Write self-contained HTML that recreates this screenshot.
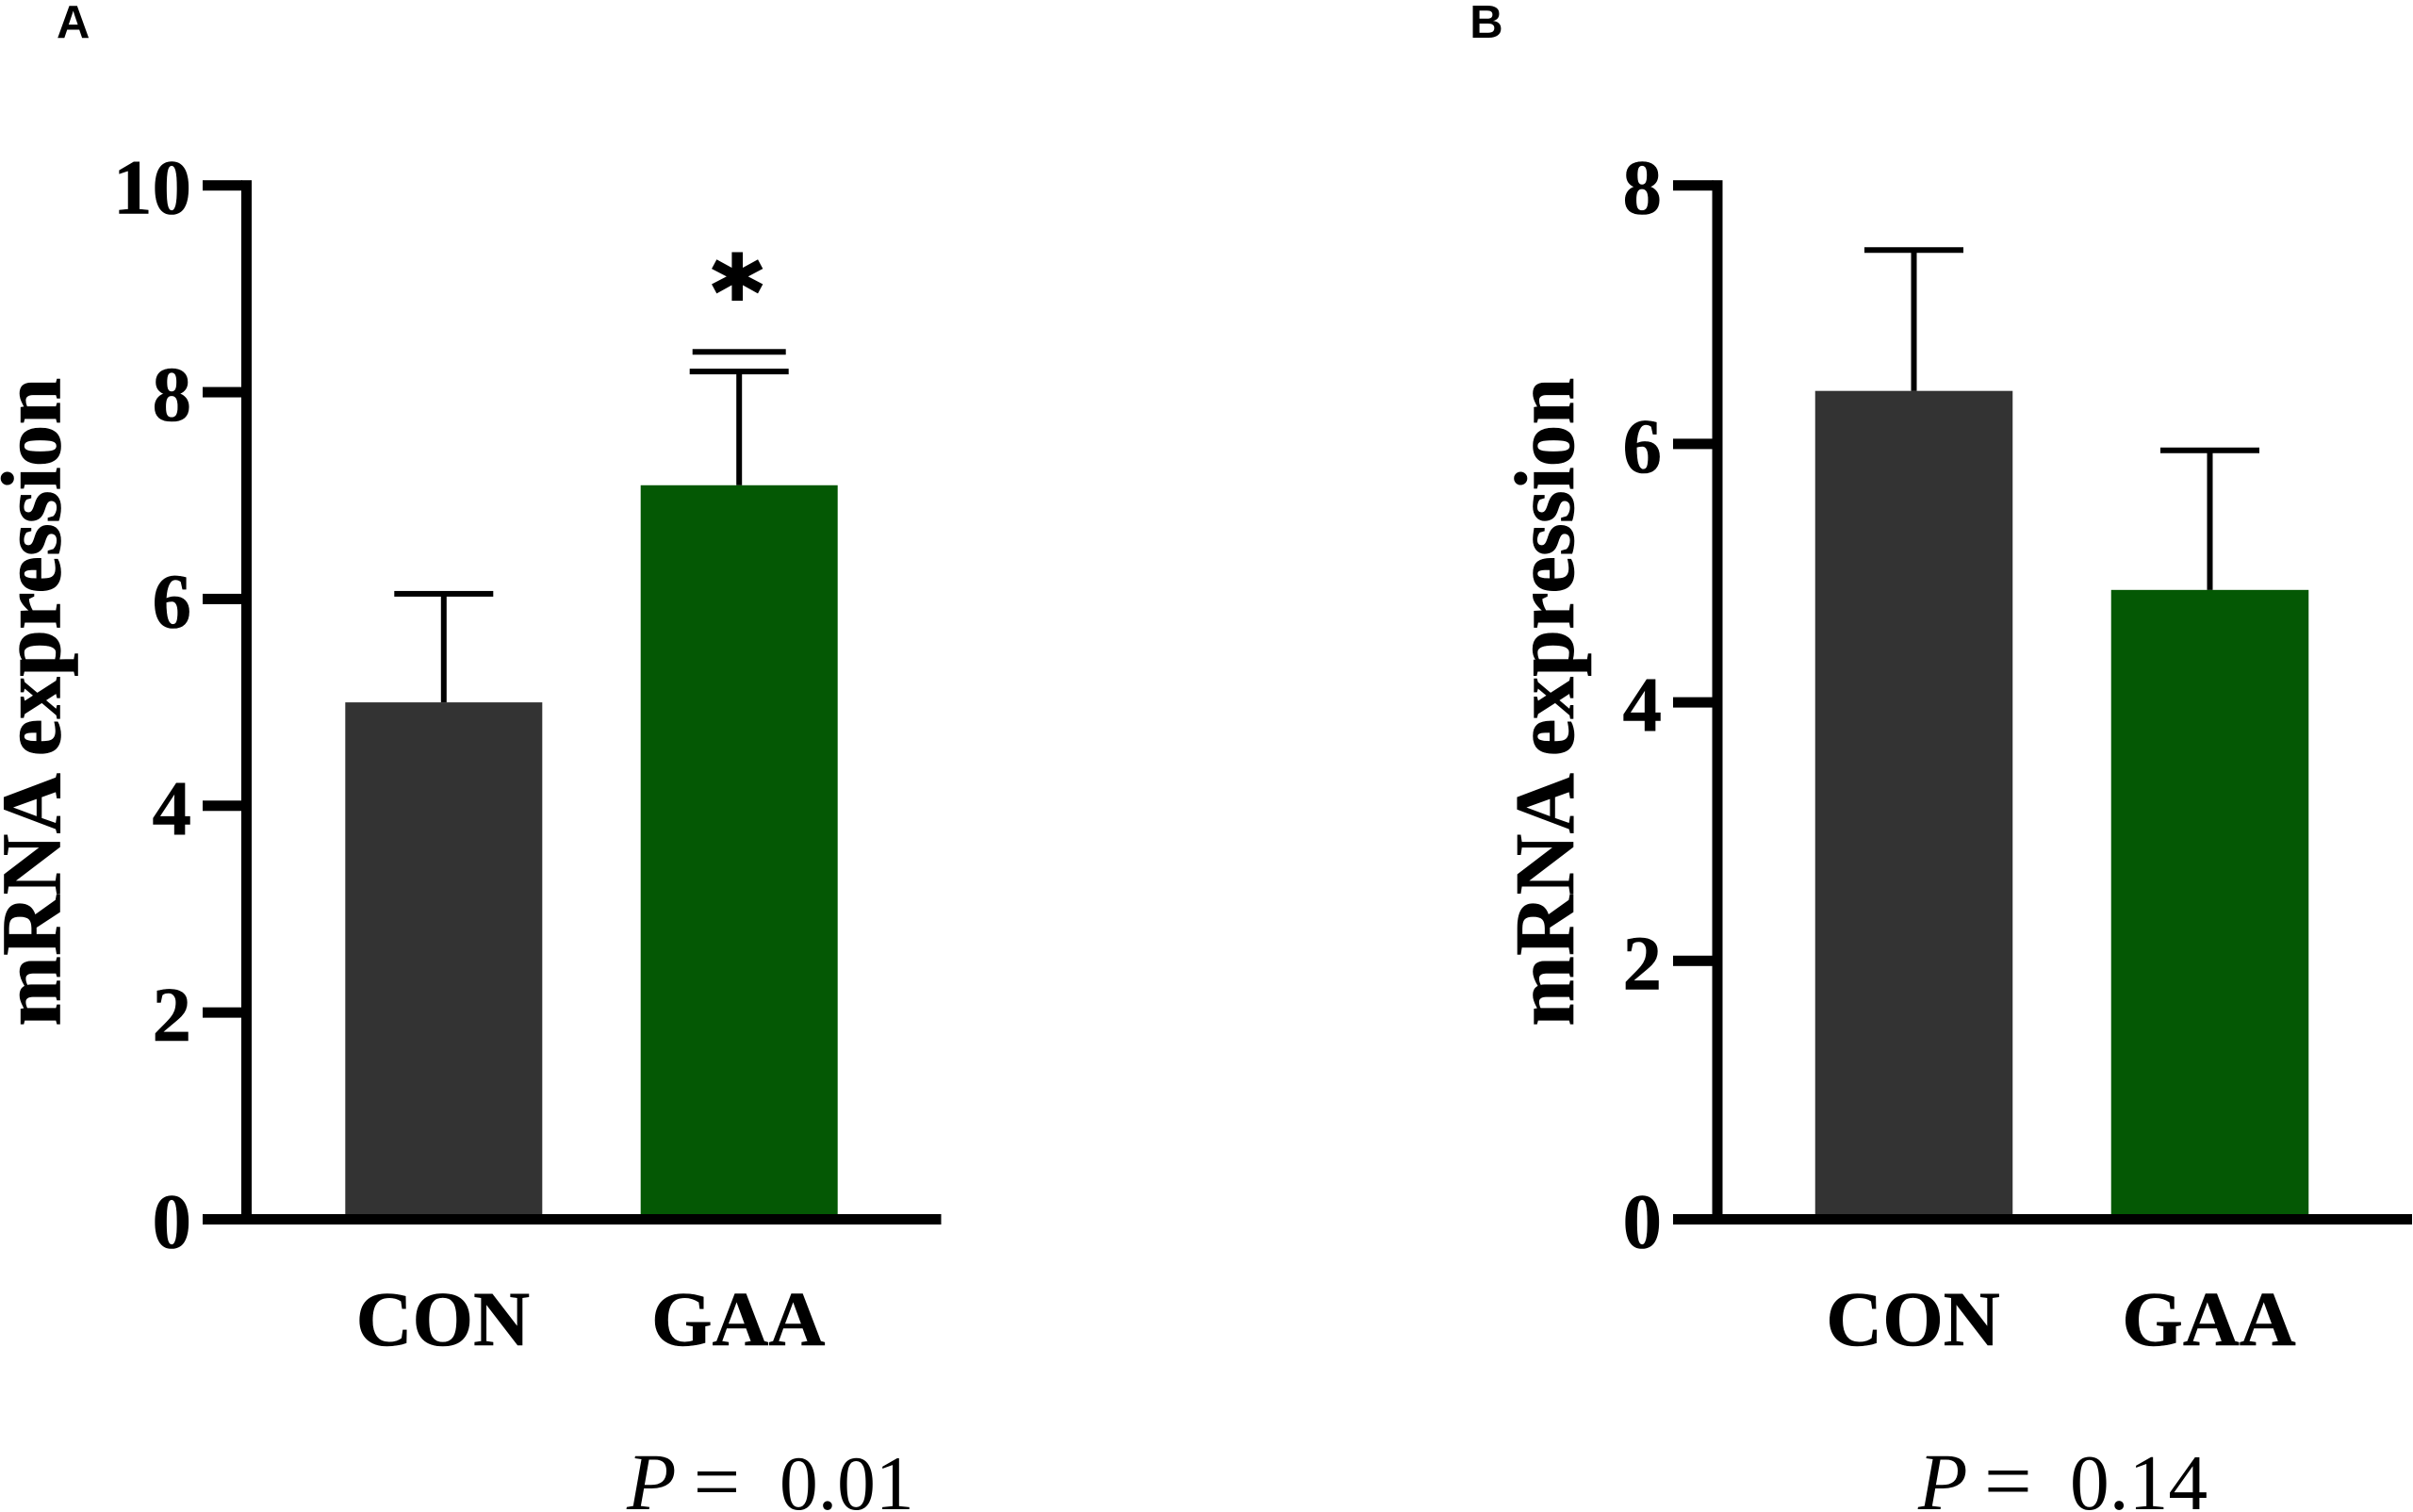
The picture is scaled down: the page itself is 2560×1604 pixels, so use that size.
<!DOCTYPE html>
<html lang="en">
<head>
<meta charset="utf-8">
<title>mRNA expression CON vs GAA</title>
<style>
html,body{margin:0;padding:0;background:#fff;}
svg{display:block;}
.serif{font-family:"Liberation Serif",serif;}
.bold{font-weight:700;stroke:#000;stroke-width:0.6px;}
.sans{font-family:"Liberation Sans",sans-serif;font-weight:700;}
.star{font-family:"DejaVu Sans",sans-serif;font-weight:700;stroke:#000;stroke-width:3px;}
</style>
</head>
<body>
<svg id="figure" xmlns="http://www.w3.org/2000/svg" width="2560" height="1604" viewBox="0 0 2560 1604">
  <rect x="0" y="0" width="2560" height="1604" fill="#ffffff"/>
  <text class="sans" x="60" y="40" font-size="49">A</text>
  <text class="sans" x="1559.3" y="40" font-size="49">B</text>
  <text class="serif bold" font-size="90" text-anchor="middle" textLength="688" lengthAdjust="spacingAndGlyphs" transform="translate(63.5 744.7) rotate(-90)">mRNA expression</text>
  <text class="serif bold" font-size="90" text-anchor="middle" textLength="688" lengthAdjust="spacingAndGlyphs" transform="translate(1669 744.7) rotate(-90)">mRNA expression</text>
  <text class="serif" y="1601"><tspan x="665" font-size="86" font-style="italic">P</tspan><tspan x="735.6" font-size="88">=</tspan><tspan x="827" font-size="81.5">0.01</tspan></text>
  <text class="serif" y="1601"><tspan x="2035" font-size="86" font-style="italic">P</tspan><tspan x="2105" font-size="90">=</tspan><tspan x="2196" font-size="83.5">0.14</tspan></text>
  <g id="panel-a"></g>
  <g id="panel-b"></g>
</svg>
<script>
// Chart data
const categories = ['CON', 'GAA'];
const barColors = ['#333333', '#045804'];

const panelAMeans = [5.0, 7.1];
const panelAErrorTops = [6.05, 8.2];
const panelATicks = [0, 2, 4, 6, 8, 10];
const panelASignificanceLine = 8.39;
const panelASignificanceMark = '*';

const panelBMeans = [6.41, 4.87];
const panelBErrorTops = [7.5, 5.95];
const panelBTicks = [0, 2, 4, 6, 8];

const SVG_NS = 'http://www.w3.org/2000/svg';

function shape(parent, tag, attrs) {
  const el = document.createElementNS(SVG_NS, tag);
  for (const k in attrs) el.setAttribute(k, attrs[k]);
  parent.appendChild(el);
  return el;
}

function drawPanel(cfg) {
  const g = document.getElementById(cfg.id);
  const top = 196.7, bottom = 1293.5;
  const maxTick = cfg.ticks[cfg.ticks.length - 1];
  const y = v => bottom + (top - bottom) * v / maxTick;
  const x = i => cfg.firstCenter + i * cfg.step;

  cfg.means.forEach((m, i) => {
    const bar = shape(g, 'rect', {x: x(i) - cfg.barWidth / 2, y: y(m), width: cfg.barWidth, height: y(0) - y(m), fill: barColors[i]});
    
    

    const stem = shape(g, 'rect', {x: x(i) - 3, y: y(cfg.errorTops[i]), width: 6, height: y(m) - y(cfg.errorTops[i]), fill: '#000'});
    
    

    const cap = shape(g, 'rect', {x: x(i) - cfg.capWidth / 2, y: y(cfg.errorTops[i]) - 3, width: cfg.capWidth, height: 6, fill: '#000'});
    
    

    const label = shape(g, 'text', {x: x(i) - 1, y: 1427, 'font-size': 83, 'text-anchor': 'middle', class: 'serif bold', fill: '#000'});
    label.textContent = categories[i];
    
    
  });

  const yAxis = shape(g, 'rect', {x: cfg.axisX, y: y(maxTick) - 5.5, width: cfg.axisWidth, height: y(0) - y(maxTick) + 11, fill: '#000'});
  
  

  const xAxis = shape(g, 'rect', {x: cfg.tickLeft, y: y(0) - 5.5, width: cfg.axisEnd - cfg.tickLeft, height: 11, fill: '#000'});
  
  

  cfg.ticks.forEach(t => {
    const tick = shape(g, 'rect', {x: cfg.tickLeft, y: y(t) - 5.5, width: cfg.axisX - cfg.tickLeft + 1, height: 11, fill: '#000'});
    
    

    const tl = shape(g, 'text', {x: cfg.labelRight, y: y(t) + 30, 'font-size': 83, 'text-anchor': 'end', class: 'serif bold', fill: '#000'});
    tl.textContent = String(t);
    
    
  });

  if (cfg.significanceLine !== undefined) {
    const line = shape(g, 'rect', {x: x(1) - 49.5, y: y(cfg.significanceLine) - 3, width: 99, height: 6, fill: '#000'});
    
    

    const star = shape(g, 'text', {x: x(1) - 2, y: y(cfg.significanceLine) - 27, 'font-size': 104, 'text-anchor': 'middle', class: 'star', fill: '#000'});
    star.textContent = cfg.significanceMark;
    
    
  }
}

drawPanel({
  id: 'panel-a', prefix: 'panel-a',
  means: panelAMeans, errorTops: panelAErrorTops, ticks: panelATicks,
  significanceLine: panelASignificanceLine, significanceMark: panelASignificanceMark,
  firstCenter: 470.8, step: 313.4, barWidth: 209, capWidth: 105,
  axisX: 256, axisWidth: 11, tickLeft: 215, axisEnd: 998.5, labelRight: 203
});

drawPanel({
  id: 'panel-b', prefix: 'panel-b',
  means: panelBMeans, errorTops: panelBErrorTops, ticks: panelBTicks,
  firstCenter: 2030.5, step: 314, barWidth: 209.5, capWidth: 105,
  axisX: 1816.5, axisWidth: 11, tickLeft: 1775, axisEnd: 2559, labelRight: 1763
});
</script>
</body>
</html>
